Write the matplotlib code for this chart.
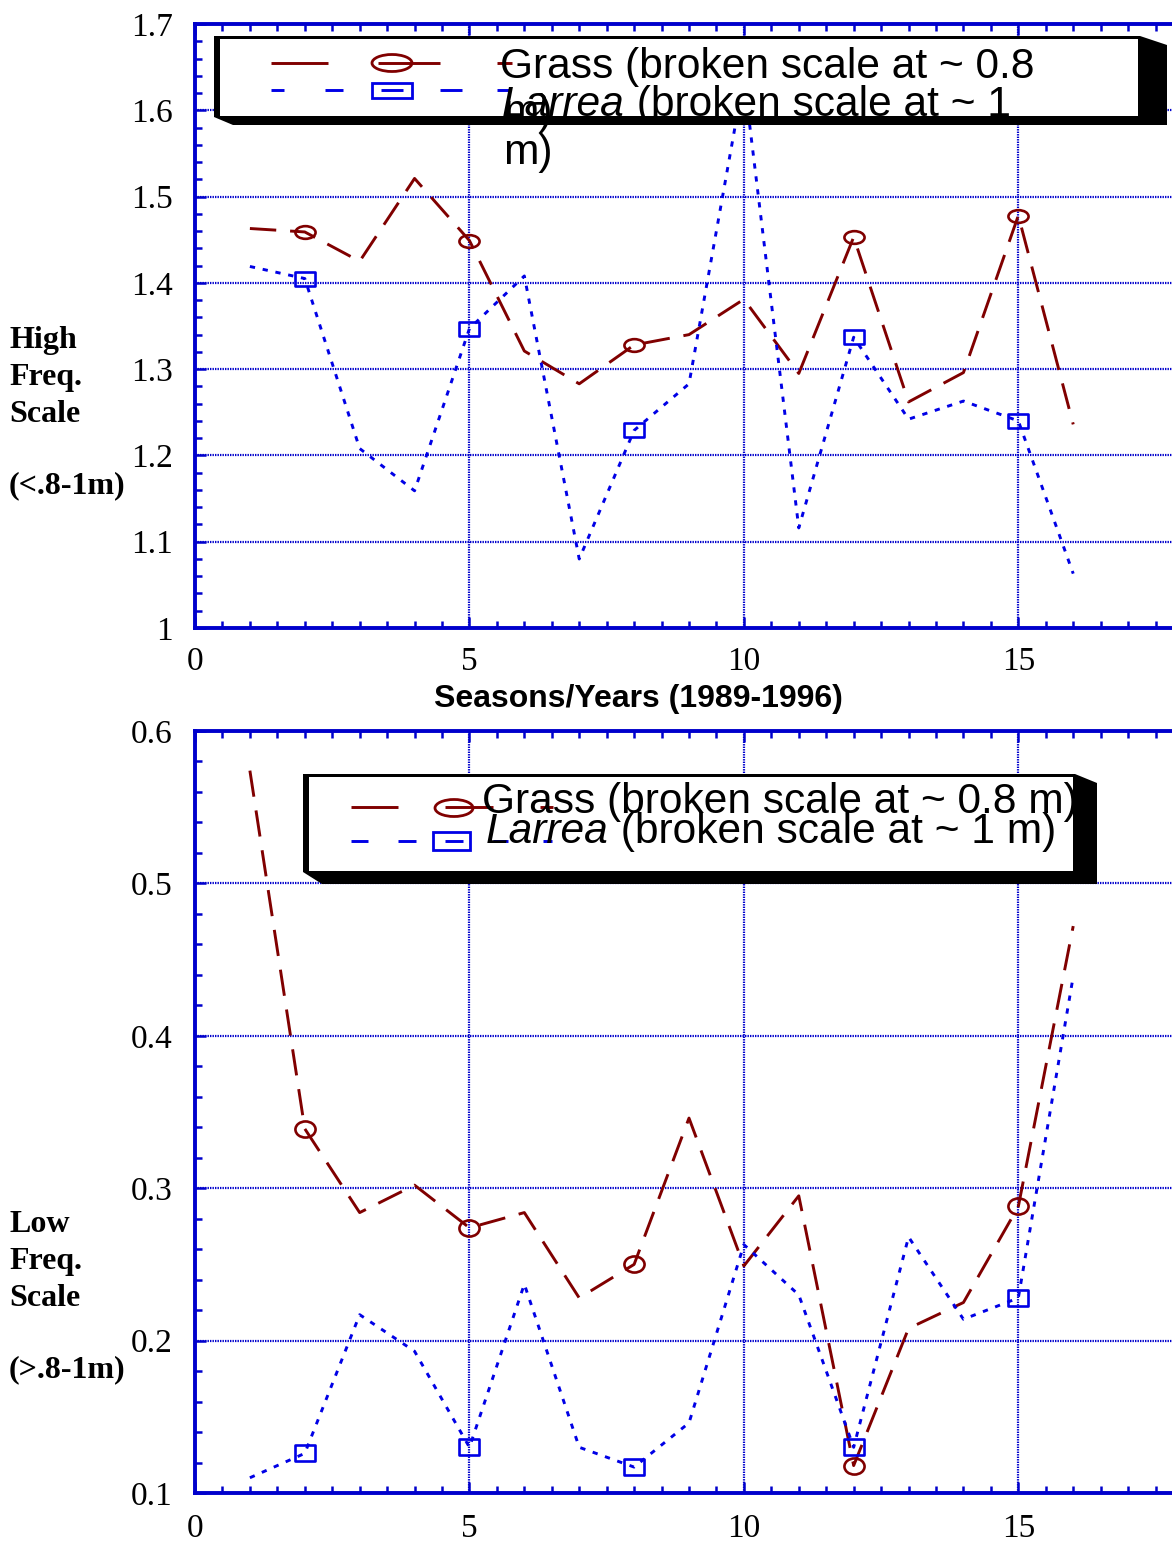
import matplotlib
matplotlib.use('Agg')
import matplotlib.pyplot as plt
from matplotlib.path import Path
from matplotlib.patches import Polygon, Rectangle, Ellipse
from matplotlib.ticker import MultipleLocator, FixedLocator, FixedFormatter

# ---------------- data ----------------
seasons = list(range(1, 17))
marker_seasons = [2, 5, 8, 12, 15]

grass_high = [1.463, 1.459, 1.425, 1.521, 1.449, 1.321, 1.283, 1.328,
              1.340, 1.381, 1.295, 1.453, 1.262, 1.296, 1.478, 1.236]
larrea_high = [1.419, 1.405, 1.208, 1.159, 1.347, 1.408, 1.080, 1.229,
               1.283, 1.638, 1.116, 1.337, 1.242, 1.263, 1.240, 1.063]
grass_low = [0.574, 0.339, 0.284, 0.302, 0.274, 0.284, 0.228, 0.250,
             0.346, 0.249, 0.295, 0.118, 0.208, 0.225, 0.288, 0.472]
larrea_low = [0.110, 0.126, 0.217, 0.193, 0.130, 0.237, 0.130, 0.117,
              0.146, 0.263, 0.230, 0.130, 0.268, 0.214, 0.228, 0.439]

xtick_vals = [0, 5, 10, 15]
xtick_labels = ['0', '5', '10', '15']
ytick_high = [1.0, 1.1, 1.2, 1.3, 1.4, 1.5, 1.6, 1.7]
ytick_high_labels = ['1', '1.1', '1.2', '1.3', '1.4', '1.5', '1.6', '1.7']
ytick_low = [0.1, 0.2, 0.3, 0.4, 0.5, 0.6]
ytick_low_labels = ['0.1', '0.2', '0.3', '0.4', '0.5', '0.6']

grass_label_1 = 'Grass (broken scale at ~ 0.8'
larrea_label_1 = ' (broken scale at ~ 1'
grass_label_full = 'Grass (broken scale at ~ 0.8 m)'
larrea_label_full = ' (broken scale at ~ 1 m)'

# ---------------- style ----------------
plt.rcParams['lines.scale_dashes'] = False
MAROON = '#800000'
LBLUE = '#0000e6'
ABLUE = '#0000cc'
W, H = 1172, 1543
LEGFS = 30.6

fig = plt.figure(figsize=(W / 100, H / 100), dpi=100)


def ellipse_marker(r):
    c = Path.unit_circle()
    return Path(c.vertices * [1, r], c.codes)


def rect_marker(r):
    return Path([(-1, -r), (1, -r), (1, r), (-1, r), (-1, -r)],
                [Path.MOVETO, Path.LINETO, Path.LINETO, Path.LINETO, Path.CLOSEPOLY])


def make_axes(top_px, bottom_px):
    ax = fig.add_axes([195 / W, 1 - bottom_px / H, (1183 - 195) / W, (bottom_px - top_px) / H])
    return ax


def style_axes(ax, yticks, ylabels, ylim, xpad):
    ax.set_xlim(0, 18)
    ax.set_ylim(*ylim)
    ax.xaxis.set_major_locator(FixedLocator(xtick_vals))
    ax.xaxis.set_major_formatter(FixedFormatter(xtick_labels))
    ax.yaxis.set_major_locator(FixedLocator(yticks))
    ax.yaxis.set_major_formatter(FixedFormatter(ylabels))
    ax.xaxis.set_minor_locator(MultipleLocator(0.5))
    ax.yaxis.set_minor_locator(MultipleLocator(0.02))
    ax.grid(True, which='major', color=ABLUE, linestyle=(0, (1.0, 0.8)), lw=1.6)
    ax.set_axisbelow(True)
    ax.tick_params(which='both', direction='in', top=True, right=True,
                   color=ABLUE, width=1.8, labelsize=24,
                   labelfontfamily='Liberation Serif')
    ax.tick_params(which='major', length=8)
    ax.tick_params(which='minor', length=5)
    ax.tick_params(axis='y', pad=16)
    ax.tick_params(axis='x', pad=xpad)
    for s in ax.spines.values():
        s.set_color(ABLUE)
        s.set_linewidth(2.8)


mark_idx = [seasons.index(s) for s in marker_seasons]

# top panel
ax1 = make_axes(24, 628)
style_axes(ax1, ytick_high, ytick_high_labels, (1.0, 1.7), 13)
ax1.plot(seasons, grass_high, color=MAROON, lw=2.1, dashes=(19, 10),
         marker=ellipse_marker(0.63), markevery=mark_idx, ms=14.5, mfc='none',
         mec=MAROON, mew=1.9)
ax1.plot(seasons, larrea_high, color=LBLUE, lw=2.1, dashes=(3.8, 5.6),
         marker=rect_marker(0.66), markevery=mark_idx, ms=14.5, mfc='none',
         mec=LBLUE, mew=1.9)

# bottom panel
ax2 = make_axes(731, 1493)
style_axes(ax2, ytick_low, ytick_low_labels, (0.1, 0.6), 15)
ax2.plot(seasons, grass_low, color=MAROON, lw=2.1, dashes=(19, 10),
         marker=ellipse_marker(0.8), markevery=mark_idx, ms=14.5, mfc='none',
         mec=MAROON, mew=1.9)
ax2.plot(seasons, larrea_low, color=LBLUE, lw=2.1, dashes=(3.8, 5.6),
         marker=rect_marker(0.83), markevery=mark_idx, ms=14.5, mfc='none',
         mec=LBLUE, mew=1.9)

# ---------------- overlay (legends, labels) in pixel coords ----------------
ov = fig.add_axes([0, 0, 1, 1], zorder=10)
ov.set_xlim(0, W)
ov.set_ylim(H, 0)
ov.axis('off')
ov.patch.set_alpha(0)

SANS = 'Liberation Sans'
SERIF = 'Liberation Serif'


def legend_box(outer, inner):
    ov.add_patch(Polygon(outer, closed=True, fc='black', ec='none'))
    x0, y0, x1, y1 = inner
    ov.add_patch(Rectangle((x0, y0), x1 - x0, y1 - y0, fc='white', ec='none'))


def segs(y, spans, color):
    for a, b in spans:
        ov.plot([a, b], [y, y], color=color, lw=2.1, solid_capstyle='butt')


# top legend
legend_box([(214, 36), (1140, 36), (1167, 45), (1167, 125), (233, 125), (214, 117)],
           (220, 39, 1138, 116))
segs(63, [(271, 328), (378, 440), (497, 512)], MAROON)
ov.add_patch(Ellipse((392, 63), 40, 17, fill=False, ec=MAROON, lw=2.0))
segs(90, [(271, 284), (325, 343), (381, 403), (440, 462), (497, 509)], LBLUE)
ov.add_patch(Rectangle((372, 83), 40, 15, fill=False, ec=LBLUE, lw=2.0))
ov.text(500, 78, grass_label_1, fontfamily=SANS, fontsize=LEGFS, va='baseline', ha='left')
ov.text(503, 124, 'm)', fontfamily=SANS, fontsize=LEGFS, va='baseline', ha='left')
t1 = ov.text(502, 116, 'Larrea', fontfamily=SANS, fontsize=LEGFS, style='italic',
             va='baseline', ha='left')
ov.annotate(larrea_label_1, xy=(1, 0), xycoords=t1, fontfamily=SANS, fontsize=LEGFS,
            va='bottom', ha='left')
ov.text(503, 164, 'm)', fontfamily=SANS, fontsize=LEGFS, va='baseline', ha='left')

# bottom legend
legend_box([(303, 774), (1075, 774), (1097, 783), (1097, 884), (322, 884), (303, 872)],
           (309, 777, 1073, 871))
segs(807, [(351, 398), (445, 493), (540, 553)], MAROON)
ov.add_patch(Ellipse((454, 808), 38, 17, fill=False, ec=MAROON, lw=2.0))
segs(841, [(351, 368), (398, 416), (445, 463), (493, 508), (543, 552)], LBLUE)
ov.add_patch(Rectangle((433, 832), 37, 18, fill=False, ec=LBLUE, lw=2.0))
ov.text(482, 813, grass_label_full, fontfamily=SANS, fontsize=LEGFS, va='baseline', ha='left')
t2 = ov.text(486, 843, 'Larrea', fontfamily=SANS, fontsize=LEGFS, style='italic',
             va='baseline', ha='left')
ov.annotate(larrea_label_full, xy=(1, 0), xycoords=t2, fontfamily=SANS, fontsize=LEGFS,
            va='bottom', ha='left')

# y-axis labels
for txt, y in [('High', 348), ('Freq.', 385), ('Scale', 422), ('(<.8-1m)', 493),
               ('Low', 1232), ('Freq.', 1269), ('Scale', 1306), ('(>.8-1m)', 1377)]:
    ov.text(9, y, txt, fontfamily=SERIF, fontweight='bold', fontsize=23,
            va='baseline', ha='left')

# x-axis label (top panel)
ov.text(638, 707, 'Seasons/Years (1989-1996)', fontfamily=SANS, fontweight='bold',
        fontsize=23, va='baseline', ha='center')

fig.savefig('out.png', dpi=100)
